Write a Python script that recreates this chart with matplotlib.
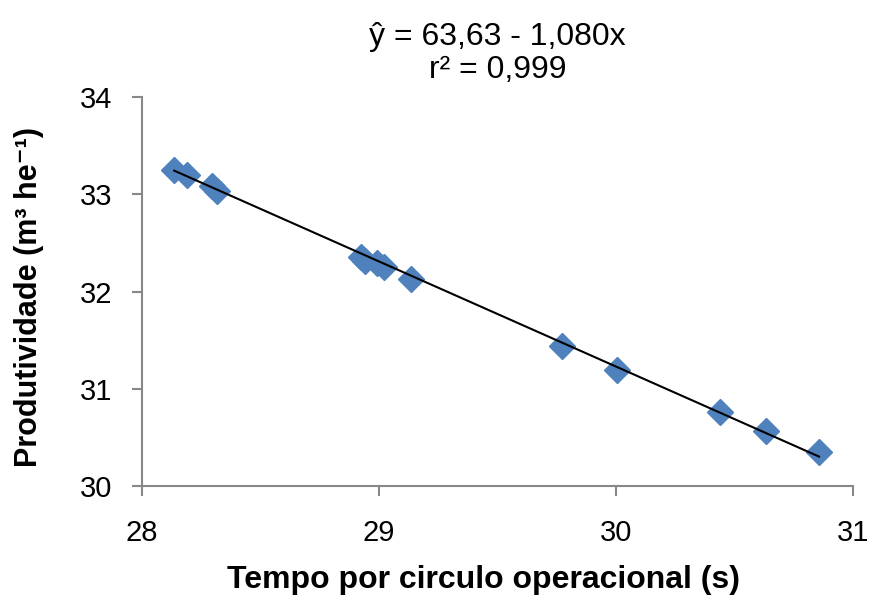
import numpy as np
import matplotlib.pyplot as plt

plt.rcParams['font.family'] = ['Liberation Sans', 'DejaVu Sans']

# tempo por circulo operacional (s) e produtividade (m3 he-1)
tempo = [28.136, 28.189, 28.294, 28.318, 28.923, 28.941, 28.990, 29.021,
         29.134, 29.775, 30.007, 30.439, 30.633, 30.858]
produtividade = [33.249, 33.198, 33.085, 33.037, 32.359, 32.315, 32.292,
                 32.251, 32.130, 31.443, 31.196, 30.762, 30.570, 30.347]
intercepto = 63.63
inclinacao = -1.080
x_ticks = [28, 29, 30, 31]
y_ticks = [30, 31, 32, 33, 34]

fig = plt.figure(figsize=(8.71, 5.95), dpi=100)
ax = fig.add_axes([0.163, 0.183, 0.816, 0.654])

ax.plot(tempo, produtividade, linestyle='none', marker='D', markersize=13.5,
        color='#4F81BD', zorder=2)
xl = np.array([min(tempo), max(tempo)])
ax.plot(xl, intercepto + inclinacao * xl, color='black', linewidth=1.5, zorder=3)

ax.set_xlim(28, 31)
ax.set_ylim(30, 34)
ax.set_xticks(x_ticks)
ax.set_yticks(y_ticks)
for s in ['top', 'right']:
    ax.spines[s].set_visible(False)
for s in ['left', 'bottom']:
    ax.spines[s].set_color('#888888')
    ax.spines[s].set_linewidth(1.5)
ax.tick_params(direction='out', length=7, width=1.5, color='#888888',
               labelsize=21)
ax.tick_params(axis='x', pad=17)
ax.tick_params(axis='y', pad=14.5)

ax.set_xlabel('Tempo por circulo operacional (s)', fontsize=23,
              fontweight='bold', va='top')
ax.xaxis.set_label_coords(483 / 871, 0.05, transform=fig.transFigure)
ax.set_ylabel('Produtividade (m³ he⁻¹)', fontsize=22, fontweight='bold')
ax.yaxis.set_label_coords(44 / 871, 0.501, transform=fig.transFigure)

fig.text(497.5 / 871, 0.925, 'ŷ = 63,63 - 1,080x', ha='center',
         va='baseline', fontsize=23)
fig.text(497.5 / 871, 0.869, 'r² = 0,999', ha='center', va='baseline',
         fontsize=23)

fig.savefig('out.png', dpi=100)
